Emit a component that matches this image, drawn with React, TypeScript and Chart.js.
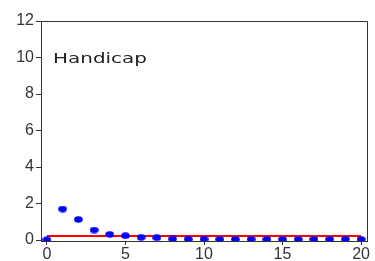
import React, { useEffect, useRef } from "react";
import { Chart, registerables } from "chart.js";

Chart.register(...registerables);

const xValues = [0, 1, 2, 3, 4, 5, 6, 7, 8, 9, 10, 11, 12, 13, 14, 15, 16, 17, 18, 19, 20];
const yValues = [0.02, 1.7, 1.13, 0.55, 0.31, 0.24, 0.15, 0.13, 0.06, 0.05, 0.05, 0.04, 0.04, 0.05, 0.04, 0.04, 0.04, 0.04, 0.04, 0.05, 0.04];
const refLineX = [0, 20];
const refLineY = [0.22, 0.22];
const xTicks = [0, 5, 10, 15, 20];
const yTicks = [0, 2, 4, 6, 8, 10, 12];
const labelText = "Handicap";

function makeDot(): HTMLCanvasElement {
  const c = document.createElement("canvas");
  c.width = 9;
  c.height = 7;
  const ctx = c.getContext("2d")!;
  ctx.fillStyle = "#0000ff";
  ctx.beginPath();
  ctx.ellipse(4.5, 3.5, 4.3, 3.2, 0, 0, Math.PI * 2);
  ctx.fill();
  return c;
}

export default function App() {
  const ref = useRef<HTMLCanvasElement | null>(null);
  useEffect(() => {
    if (!ref.current) return;
    const dot = makeDot();
    const framePlugin = {
      id: "frame",
      afterDraw(chart: any) {
        const { ctx, chartArea } = chart;
        ctx.save();
        ctx.strokeStyle = "#333333";
        ctx.lineWidth = 1;
        ctx.beginPath();
        ctx.moveTo(chartArea.left, chartArea.top + 0.5);
        ctx.lineTo(chartArea.right + 0.5, chartArea.top + 0.5);
        ctx.lineTo(chartArea.right + 0.5, chartArea.bottom);
        ctx.stroke();
        ctx.font = "14px 'DejaVu Sans'";
        ctx.fillStyle = "#222222";
        ctx.textBaseline = "middle";
        const w = ctx.measureText(labelText).width;
        const target = 94;
        ctx.translate(chartArea.left + 12, 59);
        ctx.scale(target / w, 1);
        ctx.fillText(labelText, 0, 0);
        ctx.restore();
      },
    };
    const chart = new Chart(ref.current, {
      type: "scatter",
      data: {
        datasets: [
          {
            type: "scatter",
            data: xValues.map((x, i) => ({ x, y: yValues[i] })),
            pointStyle: dot as any,
            backgroundColor: "#0000ff",
            borderColor: "#0000ff",
          },
          {
            type: "line",
            data: refLineX.map((x, i) => ({ x, y: refLineY[i] })),
            borderColor: "#ff0000",
            borderWidth: 2,
            pointRadius: 0,
            fill: false,
          } as any,
        ],
      },
      options: {
        animation: false,
        responsive: false,
        maintainAspectRatio: false,
        layout: { padding: { top: 21, right: 8, left: 0, bottom: 0 } },
        plugins: { legend: { display: false }, tooltip: { enabled: false } },
        scales: {
          x: {
            type: "linear",
            min: -0.38,
            max: 20.38,
            afterBuildTicks: (s: any) => {
              s.ticks = xTicks.map((v) => ({ value: v }));
            },
            afterFit: (s: any) => {
              s.height = 20;
            },
            grid: { drawOnChartArea: false, drawTicks: true, tickLength: 4, color: "#333333" },
            border: { color: "#333333", width: 1 },
            ticks: {
              color: "#333333",
              font: { family: "'Liberation Sans', Arial, sans-serif", size: 16 },
              padding: 0,
              maxRotation: 0,
            },
          },
          y: {
            type: "linear",
            min: -0.05,
            max: 12,
            afterBuildTicks: (s: any) => {
              s.ticks = yTicks.map((v) => ({ value: v }));
            },
            afterFit: (s: any) => {
              s.width = 41;
            },
            grid: { drawOnChartArea: false, drawTicks: true, tickLength: 5, color: "#333333" },
            border: { color: "#333333", width: 1 },
            ticks: {
              color: "#333333",
              font: { family: "'Liberation Sans', Arial, sans-serif", size: 16 },
              padding: 2,
            },
          },
        },
      },
      plugins: [framePlugin],
    });
    return () => chart.destroy();
  }, []);
  return (
    <div style={{ position: "absolute", left: 0, top: 0, width: 375, height: 261, background: "#fff" }}>
      <canvas ref={ref} width={375} height={261} style={{ display: "block", width: 375, height: 261 }} />
    </div>
  );
}
